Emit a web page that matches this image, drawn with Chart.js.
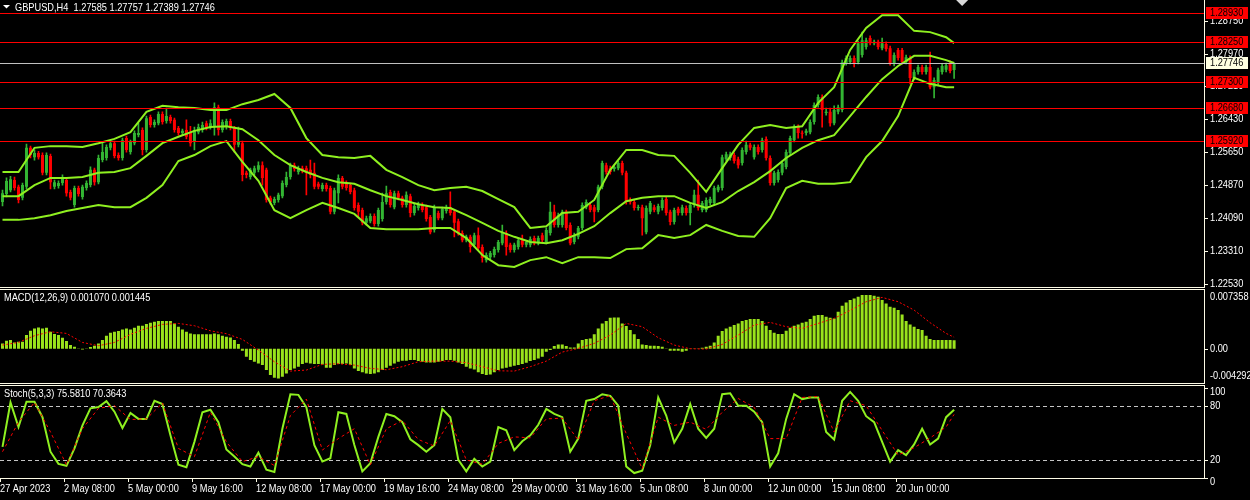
<!DOCTYPE html>
<html lang="en">

<head>
  <meta charset="UTF-8">
  <title>GBPUSD,H4</title>
  <script src="https://cdn.jsdelivr.net/npm/chart.js"></script>
  <style>
    html, body { margin: 0; padding: 0; background: #000; }
    body { width: 1250px; height: 500px; position: relative; overflow: hidden; }
    canvas { position: absolute; left: 0; }
    #mainChart { top: 0; }
    #macdChart { top: 289px; }
    #stochChart { top: 385px; }
  </style>
</head>

<body>
  <canvas id="mainChart" width="1250" height="288"></canvas>
  <canvas id="macdChart" width="1250" height="95"></canvas>
  <canvas id="stochChart" width="1250" height="115"></canvas>

  <script>
    // H4 candles, oldest first
    const opens = [
      1.2447,1.2466,1.2475,1.2499,1.2483,1.2457,1.2483,1.2575,1.2553,1.2563,
      1.2558,1.2516,1.2556,1.2483,1.2485,1.2492,1.2499,1.2471,1.2440,1.2480,
      1.2459,1.2480,1.2487,1.2523,1.2494,1.2546,1.2551,1.2575,1.2586,1.2558,
      1.2551,1.2598,1.2565,1.2586,1.2605,1.2617,1.2570,1.2648,1.2629,1.2633,
      1.2655,1.2638,1.2648,1.2641,1.2622,1.2610,1.2617,1.2612,1.2589,1.2612,
      1.2617,1.2633,1.2624,1.2624,1.2671,1.2617,1.2624,1.2638,1.2622,1.2582,
      1.2586,1.2516,1.2506,1.2516,1.2523,1.2534,1.2523,1.2457,1.2445,1.2452,
      1.2461,1.2487,1.2506,1.2534,1.2518,1.2527,1.2527,1.2523,1.2516,1.2490,
      1.2478,1.2487,1.2480,1.2424,1.2468,1.2504,1.2492,1.2487,1.2475,1.2440,
      1.2428,1.2398,1.2402,1.2414,1.2395,1.2407,1.2447,1.2471,1.2435,1.2468,
      1.2457,1.2440,1.2461,1.2421,1.2433,1.2440,1.2435,1.2412,1.2381,1.2421,
      1.2409,1.2426,1.2435,1.2424,1.2402,1.2374,1.2357,1.2365,1.2346,1.2369,
      1.2341,1.2310,1.2317,1.2322,1.2334,1.2350,1.2374,1.2346,1.2334,1.2341,
      1.2357,1.2346,1.2346,1.2362,1.2350,1.2369,1.2353,1.2374,1.2424,1.2393,
      1.2393,1.2424,1.2393,1.2353,1.2365,1.2386,1.2435,1.2440,1.2435,1.2428,
      1.2483,1.2534,1.2527,1.2525,1.2527,1.2539,1.2516,1.2452,1.2447,1.2433,
      1.2435,1.2376,1.2424,1.2435,1.2424,1.2433,1.2454,1.2424,1.2400,1.2431,
      1.2421,1.2433,1.2421,1.2440,1.2464,1.2428,1.2428,1.2445,1.2445,1.2475,
      1.2480,1.2548,1.2551,1.2558,1.2548,1.2539,1.2565,1.2582,1.2553,1.2577,
      1.2570,1.2596,1.2551,1.2492,1.2499,1.2516,1.2530,1.2563,1.2593,1.2624,
      1.2610,1.2610,1.2612,1.2636,1.2676,1.2695,1.2657,1.2660,1.2633,1.2660,
      1.2664,1.2775,1.2777,1.2787,1.2777,1.2794,1.2813,1.2834,1.2822,1.2825,
      1.2810,1.2820,1.2810,1.2773,1.2806,1.2806,1.2777,1.2787,1.2740,1.2754,
      1.2766,1.2754,1.2766,1.2718,1.2728,1.2754,1.2759,1.2775,1.27585
    ];
    const highs = [
      1.2475,1.2504,1.2508,1.2506,1.2487,1.2492,1.2584,1.2579,1.2570,1.2567,
      1.2563,1.2563,1.2560,1.2499,1.2497,1.2511,1.2504,1.2475,1.2485,1.2485,
      1.2487,1.2497,1.2530,1.2527,1.2558,1.2586,1.2582,1.2593,1.2591,1.2563,
      1.2598,1.2603,1.2593,1.2615,1.2633,1.2622,1.2650,1.2652,1.2641,1.2660,
      1.2660,1.2669,1.2652,1.2645,1.2626,1.2619,1.2641,1.2626,1.2624,1.2631,
      1.2636,1.2638,1.2641,1.2681,1.2676,1.2641,1.2643,1.2643,1.2626,1.2624,
      1.2591,1.2520,1.2527,1.2532,1.2542,1.2542,1.2527,1.2461,1.2459,1.2468,
      1.2497,1.2518,1.2539,1.2539,1.2532,1.2532,1.2532,1.2546,1.2539,1.2494,
      1.2492,1.2492,1.2485,1.2480,1.2511,1.2508,1.2497,1.2492,1.2480,1.2445,
      1.2433,1.2414,1.2419,1.2419,1.2433,1.2468,1.2485,1.2475,1.2473,1.2473,
      1.2461,1.2471,1.2466,1.2442,1.2447,1.2445,1.2440,1.2416,1.2440,1.2426,
      1.2435,1.2440,1.2471,1.2428,1.2407,1.2379,1.2369,1.2369,1.2374,1.2386,
      1.2346,1.2327,1.2331,1.2341,1.2357,1.2393,1.2379,1.2350,1.2350,1.2362,
      1.2369,1.2357,1.2365,1.2367,1.2367,1.2374,1.2386,1.2447,1.2440,1.2421,
      1.2428,1.2428,1.2398,1.2374,1.2390,1.2445,1.2452,1.2445,1.2440,1.2487,
      1.2544,1.2539,1.2532,1.2534,1.2544,1.2544,1.2520,1.2457,1.2452,1.2440,
      1.2440,1.2438,1.2449,1.2440,1.2442,1.2457,1.2459,1.2428,1.2433,1.2435,
      1.2440,1.2438,1.2445,1.2475,1.2499,1.2449,1.2457,1.2459,1.2485,1.2487,
      1.2558,1.2565,1.2565,1.2563,1.2553,1.2575,1.2591,1.2586,1.2582,1.2582,
      1.2598,1.2601,1.2556,1.2520,1.2523,1.2544,1.2570,1.2603,1.2629,1.2629,
      1.2615,1.2619,1.2641,1.2681,1.2700,1.2700,1.2669,1.2669,1.2674,1.2676,
      1.2782,1.2792,1.2792,1.2792,1.2827,1.2848,1.2834,1.2839,1.2829,1.2829,
      1.2834,1.2825,1.2815,1.2799,1.2810,1.2810,1.2794,1.2792,1.2759,1.2770,
      1.2770,1.2770,1.2801,1.2740,1.2763,1.2773,1.2775,1.2780,1.27757
    ];
    const lows = [
      1.2438,1.2459,1.2471,1.2475,1.2445,1.2452,1.2478,1.2551,1.2546,1.2548,
      1.2511,1.2511,1.2478,1.2478,1.2480,1.2487,1.2461,1.2452,1.2435,1.2461,
      1.2454,1.2475,1.2483,1.2487,1.2490,1.2542,1.2546,1.2570,1.2551,1.2546,
      1.2546,1.2565,1.2560,1.2582,1.2601,1.2558,1.2565,1.2624,1.2624,1.2629,
      1.2631,1.2633,1.2633,1.2612,1.2605,1.2605,1.2596,1.2579,1.2570,1.2608,
      1.2612,1.2617,1.2619,1.2605,1.2605,1.2612,1.2619,1.2617,1.2565,1.2577,
      1.2497,1.2504,1.2501,1.2511,1.2518,1.2487,1.2447,1.2442,1.2440,1.2447,
      1.2457,1.2483,1.2501,1.2520,1.2513,1.2516,1.2464,1.2504,1.2478,1.2478,
      1.2473,1.2473,1.2419,1.2419,1.2445,1.2478,1.2475,1.2466,1.2428,1.2412,
      1.2393,1.2393,1.2398,1.2390,1.2390,1.2402,1.2442,1.2435,1.2431,1.2452,
      1.2435,1.2435,1.2412,1.2416,1.2428,1.2424,1.2402,1.2372,1.2376,1.2405,
      1.2405,1.2421,1.2416,1.2365,1.2369,1.2353,1.2353,1.2329,1.2341,1.2334,
      1.2305,1.2305,1.2313,1.2317,1.2329,1.2346,1.2322,1.2329,1.2329,1.2336,
      1.2341,1.2341,1.2341,1.2346,1.2346,1.2353,1.2348,1.2369,1.2388,1.2388,
      1.2388,1.2381,1.2346,1.2348,1.2360,1.2381,1.2431,1.2424,1.2400,1.2424,
      1.2478,1.2513,1.2513,1.2520,1.2523,1.2511,1.2442,1.2442,1.2428,1.2428,
      1.2369,1.2372,1.2419,1.2424,1.2419,1.2428,1.2416,1.2393,1.2395,1.2416,
      1.2416,1.2416,1.2393,1.2435,1.2428,1.2424,1.2424,1.2440,1.2440,1.2471,
      1.2475,1.2544,1.2546,1.2539,1.2527,1.2534,1.2560,1.2570,1.2548,1.2560,
      1.2565,1.2546,1.2487,1.2487,1.2494,1.2511,1.2525,1.2558,1.2589,1.2598,
      1.2598,1.2605,1.2608,1.2631,1.2671,1.2624,1.2652,1.2626,1.2629,1.2655,
      1.2660,1.2770,1.2773,1.2766,1.2773,1.2789,1.2808,1.2818,1.2818,1.2808,
      1.2806,1.2803,1.2770,1.2768,1.2782,1.2773,1.2773,1.2726,1.2735,1.2749,
      1.2749,1.2749,1.2714,1.2693,1.2723,1.2749,1.2754,1.2752,1.27389
    ];
    const closes = [
      1.2468,1.2497,1.2501,1.2480,1.2452,1.2487,1.2575,1.2558,1.2563,1.2553,
      1.2516,1.2558,1.2494,1.2494,1.2492,1.2506,1.2468,1.2457,1.2480,1.2466,
      1.2483,1.2492,1.2523,1.2494,1.2551,1.2565,1.2577,1.2586,1.2556,1.2551,
      1.2593,1.2570,1.2589,1.2610,1.2610,1.2570,1.2645,1.2629,1.2636,1.2655,
      1.2636,1.2650,1.2638,1.2617,1.2610,1.2615,1.2601,1.2586,1.2617,1.2624,
      1.2629,1.2622,1.2633,1.2671,1.2617,1.2636,1.2638,1.2622,1.2582,1.2589,
      1.2511,1.2511,1.2523,1.2527,1.2534,1.2504,1.2452,1.2447,1.2454,1.2464,
      1.2492,1.2506,1.2534,1.2525,1.2527,1.2520,1.2518,1.2511,1.2483,1.2483,
      1.2487,1.2478,1.2424,1.2475,1.2504,1.2483,1.2480,1.2471,1.2433,1.2424,
      1.2398,1.2409,1.2414,1.2395,1.2428,1.2447,1.2468,1.2440,1.2468,1.2457,
      1.2440,1.2464,1.2421,1.2438,1.2442,1.2428,1.2407,1.2376,1.2435,1.2409,
      1.2431,1.2435,1.2421,1.2398,1.2374,1.2357,1.2365,1.2341,1.2369,1.2338,
      1.2315,1.2322,1.2327,1.2336,1.2353,1.2374,1.2341,1.2334,1.2346,1.2357,
      1.2346,1.2353,1.2360,1.2350,1.2362,1.2357,1.2381,1.2424,1.2393,1.2416,
      1.2424,1.2386,1.2350,1.2369,1.2386,1.2440,1.2447,1.2428,1.2424,1.2483,
      1.2539,1.2518,1.2518,1.2530,1.2539,1.2516,1.2447,1.2447,1.2433,1.2435,
      1.2409,1.2433,1.2445,1.2428,1.2438,1.2452,1.2421,1.2400,1.2428,1.2421,
      1.2435,1.2421,1.2440,1.2464,1.2433,1.2445,1.2452,1.2454,1.2480,1.2483,
      1.2553,1.2560,1.2560,1.2544,1.2534,1.2570,1.2582,1.2575,1.2577,1.2565,
      1.2593,1.2551,1.2492,1.2516,1.2518,1.2539,1.2565,1.2598,1.2624,1.2610,
      1.2608,1.2615,1.2636,1.2676,1.2695,1.2664,1.2660,1.2633,1.2664,1.2671,
      1.2777,1.2787,1.2787,1.2775,1.2822,1.2829,1.2829,1.2822,1.2825,1.2813,
      1.2822,1.2808,1.2775,1.2794,1.2787,1.2777,1.2789,1.2740,1.2754,1.2766,
      1.2754,1.2766,1.2718,1.2735,1.2759,1.2768,1.2770,1.2756,1.27746
    ];

    // Bollinger bands, read every 4th bar (the last point sits on the last bar)
    const bandStep = 4;
    const bandUpper = [
      1.2518,1.2518,1.2575,1.2579,1.2579,1.2577,1.2586,1.2596,1.2612,1.2660,
      1.2674,1.2671,1.2669,1.2664,1.2664,1.2678,1.2688,1.2702,1.2669,1.2598,
      1.2558,1.2553,1.2551,1.2556,1.2523,1.2506,1.2487,1.2475,1.2480,1.2483,
      1.2473,1.2454,1.2435,1.2386,1.2390,1.2421,1.2424,1.2452,1.2523,1.2570,
      1.2570,1.2558,1.2556,1.2516,1.2471,1.2527,1.2582,1.2622,1.2629,1.2622,
      1.2626,1.2681,1.2718,1.2806,1.2858,1.2888,1.2888,1.2851,1.2848,1.2836,1.2822
    ];
    const bandMiddle = [
      1.2461,1.2461,1.2487,1.2504,1.2504,1.2506,1.2516,1.2518,1.2527,1.2556,
      1.2586,1.2601,1.2615,1.2624,1.2626,1.2619,1.2593,1.2558,1.2534,1.2518,
      1.2504,1.2494,1.2490,1.2475,1.2461,1.2452,1.2442,1.2435,1.2433,1.2416,
      1.2398,1.2379,1.2365,1.2353,1.2350,1.2357,1.2372,1.2390,1.2421,1.2449,
      1.2457,1.2461,1.2461,1.2445,1.2433,1.2447,1.2473,1.2494,1.2520,1.2551,
      1.2575,1.2593,1.2605,1.2650,1.2695,1.2737,1.2768,1.2792,1.2792,1.2782,1.2775
    ];
    const bandLower = [
      1.2405,1.2405,1.2409,1.2416,1.2426,1.2433,1.2440,1.2435,1.2435,1.2457,
      1.2487,1.2544,1.2558,1.2579,1.2591,1.2542,1.2497,1.2428,1.2409,1.2428,
      1.2445,1.2433,1.2419,1.2386,1.2383,1.2383,1.2383,1.2386,1.2386,1.2362,
      1.2322,1.2298,1.2294,1.2310,1.2317,1.2303,1.2317,1.2317,1.2315,1.2336,
      1.2338,1.2369,1.2362,1.2369,1.2393,1.2379,1.2367,1.2365,1.2409,1.2480,
      1.2497,1.2490,1.2490,1.2494,1.2553,1.2591,1.2650,1.2740,1.2726,1.2718,1.2718
    ];

    // MACD(12,26,9): main per bar, signal every 4th bar
    const macdMain = [
      0.00067,0.00100,0.00109,0.00079,0.00088,0.00088,0.00171,0.00225,0.00255,0.00267,
      0.00255,0.00263,0.00213,0.00184,0.00171,0.00138,0.00096,0.00046,0.00025,0.00004,
      -0.00008,-0.00004,0.00021,0.00038,0.00067,0.00109,0.00163,0.00200,0.00213,0.00221,
      0.00242,0.00255,0.00242,0.00263,0.00288,0.00288,0.00309,0.00326,0.00338,0.00347,
      0.00347,0.00347,0.00347,0.00317,0.00276,0.00242,0.00213,0.00192,0.00180,0.00180,
      0.00180,0.00180,0.00180,0.00192,0.00180,0.00163,0.00150,0.00142,0.00109,0.00058,
      -0.00025,-0.00100,-0.00142,-0.00163,-0.00184,-0.00205,-0.00267,-0.00330,-0.00363,-0.00372,
      -0.00351,-0.00309,-0.00267,-0.00246,-0.00225,-0.00192,-0.00175,-0.00184,-0.00192,-0.00192,
      -0.00196,-0.00238,-0.00238,-0.00205,-0.00192,-0.00192,-0.00184,-0.00205,-0.00246,-0.00280,
      -0.00296,-0.00309,-0.00317,-0.00309,-0.00296,-0.00267,-0.00238,-0.00213,-0.00184,-0.00163,
      -0.00150,-0.00150,-0.00142,-0.00142,-0.00155,-0.00163,-0.00171,-0.00171,-0.00171,-0.00163,
      -0.00155,-0.00142,-0.00142,-0.00150,-0.00171,-0.00192,-0.00225,-0.00246,-0.00259,-0.00296,
      -0.00317,-0.00330,-0.00322,-0.00296,-0.00267,-0.00246,-0.00238,-0.00225,-0.00213,-0.00205,
      -0.00192,-0.00175,-0.00155,-0.00142,-0.00121,-0.00100,-0.00038,-0.00017,0.00033,0.00054,
      0.00054,0.00033,0.00017,0.00017,0.00067,0.00109,0.00121,0.00129,0.00180,0.00255,
      0.00317,0.00347,0.00388,0.00392,0.00392,0.00317,0.00284,0.00234,0.00180,0.00121,
      0.00054,0.00046,0.00038,0.00038,0.00033,0.00025,-0.00004,-0.00025,-0.00025,-0.00025,
      -0.00038,-0.00025,0.00004,0.00004,0.00004,0.00013,0.00025,0.00038,0.00079,0.00163,
      0.00221,0.00255,0.00276,0.00296,0.00317,0.00347,0.00359,0.00372,0.00372,0.00372,
      0.00347,0.00288,0.00234,0.00200,0.00184,0.00184,0.00225,0.00263,0.00288,0.00305,
      0.00326,0.00338,0.00372,0.00413,0.00422,0.00422,0.00401,0.00388,0.00380,0.00463,
      0.00539,0.00580,0.00610,0.00630,0.00651,0.00672,0.00672,0.00672,0.00664,0.00651,
      0.00610,0.00568,0.00526,0.00514,0.00484,0.00430,0.00347,0.00305,0.00276,0.00246,
      0.00234,0.00163,0.00121,0.00109,0.00109,0.00109,0.00109,0.00109,0.00107
    ];
    const macdSignalStep = 4;
    const macdSignal = [
      0.00046,0.00079,0.00163,0.00213,0.00192,0.00079,0.00038,0.00079,0.00180,0.00255,
      0.00305,0.00317,0.00288,0.00225,0.00188,0.00117,-0.00017,-0.00163,-0.00280,-0.00267,
      -0.00196,-0.00188,-0.00205,-0.00246,-0.00263,-0.00225,-0.00163,-0.00155,-0.00155,-0.00175,
      -0.00225,-0.00276,-0.00280,-0.00225,-0.00155,-0.00042,0.00004,0.00067,0.00171,0.00317,
      0.00276,0.00138,0.00046,0.00000,-0.00004,0.00054,0.00171,0.00296,0.00330,0.00276,
      0.00255,0.00317,0.00380,0.00480,0.00589,0.00643,0.00589,0.00484,0.00326,0.00192,0.001445
    ];

    // Stoch(5,3,3): %K every 2nd bar, %D every 4th bar
    const stochMainStep = 2;
    const stochMain = [
      34.5,83.6,56.4,84.4,84.4,67.3,29.1,15.6,13.5,32.7,
      58.2,77.1,78.5,85.1,73.4,55.3,72.0,65.4,65.4,85.5,
      81.8,47.3,14.6,12.0,40.0,72.7,75.6,61.8,31.6,23.7,
      15.3,12.7,28.0,9.1,6.6,54.5,92.7,92.0,78.2,36.4,
      18.2,21.8,72.7,70.9,36.4,7.3,16.4,45.5,70.9,68.4,
      61.8,42.9,36.4,29.1,36.4,76.4,67.3,20.0,7.3,21.1,
      12.7,18.2,56.4,52.7,30.9,40.7,47.3,58.9,76.4,70.9,
      67.3,29.1,43.6,85.5,87.3,92.7,90.9,80.0,12.7,5.5,
      8.0,36.4,89.1,69.1,39.3,54.5,81.8,54.5,44.4,54.5,
      92.7,93.8,80.0,80.0,73.4,61.8,12.7,27.3,65.4,92.7,
      87.3,89.1,89.1,50.9,42.6,85.5,95.3,85.5,68.4,61.8,
      40.0,18.2,30.9,25.4,37.1,54.5,37.1,43.6,67.3,75.5810
    ];
    const stochSignalStep = 4;
    const stochSignal = [
      29.1,61.8,83.6,50.9,14.6,54.5,77.1,80.0,64.7,65.4,
      82.9,32.7,23.6,72.7,40.0,18.2,23.6,13.8,69.1,87.3,
      30.9,43.6,54.5,14.6,54.5,63.6,42.6,35.3,63.6,20.0,
      15.3,38.2,45.5,44.4,65.4,66.2,41.8,85.5,91.3,49.1,
      10.2,67.3,58.2,61.8,53.8,72.7,88.0,78.2,43.6,43.6,
      89.1,90.2,50.9,85.5,80.0,52.7,25.4,33.5,44.4,56.4,70.3643
    ];

    // axes and levels
    const priceTicks = [1.28750, 1.27970, 1.27210, 1.26430, 1.25650, 1.24870, 1.24090, 1.23310, 1.22530];
    const levels = [1.28930, 1.28250, 1.27300, 1.26680, 1.25920];
    const macdTicks = [0.007358, 0, -0.004292];
    const stochTicks = [100, 80, 20, 0];
    const stochLevels = [80, 20];
    const dateEvery = 16;
    const dateLabels = ['27 Apr 2023', '2 May 08:00', '5 May 00:00', '9 May 16:00', '12 May 08:00',
      '17 May 00:00', '19 May 16:00', '24 May 08:00', '29 May 00:00', '31 May 16:00',
      '5 Jun 08:00', '8 Jun 00:00', '12 Jun 00:00', '15 Jun 08:00', '20 Jun 00:00'];

    const N = closes.length;
    const SLOTS = 301; // bars plus the empty shift area on the right
    const slots = Array.from({ length: SLOTS }, (_, i) => i);

    const BULL = '#33b533', BEAR = '#ff0000', LINE = '#8ff020', HIST = '#9ae21c';
    const AXIS = '#fdfbe6', TEXT = '#ffffff';

    // terminal-style text: a slightly condensed sans
    const FONT = '10.5px "Liberation Sans"';
    const SQUEEZE = 0.88;
    function text(ctx, s, x, y) {
      ctx.save();
      ctx.translate(x, y);
      ctx.scale(SQUEEZE, 1);
      ctx.fillText(s, 0, 0);
      ctx.restore();
    }

    function sparse(values, step) {
      const out = new Array(N).fill(null);
      values.forEach((v, k) => { out[Math.min(k * step, N - 1)] = v; });
      return out;
    }
    const crisp = v => Math.round(v) + 0.5;
    function hline(ctx, x1, x2, y, color, dash) {
      ctx.save();
      ctx.strokeStyle = color;
      ctx.lineWidth = 1;
      ctx.setLineDash(dash || []);
      ctx.beginPath();
      ctx.moveTo(x1, crisp(y));
      ctx.lineTo(x2, crisp(y));
      ctx.stroke();
      ctx.restore();
    }
    function vline(ctx, x, y1, y2, color) {
      ctx.save();
      ctx.strokeStyle = color;
      ctx.lineWidth = 1;
      ctx.beginPath();
      ctx.moveTo(crisp(x), y1);
      ctx.lineTo(crisp(x), y2);
      ctx.stroke();
      ctx.restore();
    }
    function tag(ctx, right, y, s, bg, fg) {
      const top = Math.round(y) - 6;
      ctx.fillStyle = bg;
      ctx.fillRect(right + 2, top, 42, 12);
      ctx.fillStyle = fg;
      text(ctx, s, right + 6, top + 6.5);
    }
    const candleColor = c => closes[c.dataIndex] >= opens[c.dataIndex] ? BULL : BEAR;

    const xAxis = { type: 'category', display: false, offset: true };
    const base = {
      responsive: false,
      animation: false,
      events: [],
      plugins: { legend: { display: false }, tooltip: { enabled: false } }
    };

    // ---- price pane ----
    const mainDecor = {
      id: 'mainDecor',
      afterDraw(chart) {
        const { ctx, chartArea: a, scales: { x, y } } = chart;
        ctx.save();
        ctx.font = FONT;
        ctx.textBaseline = 'middle';
        levels.forEach(v => hline(ctx, 0, a.right, y.getPixelForValue(v), BEAR));
        hline(ctx, 0, a.right, y.getPixelForValue(closes[N - 1]), '#c0c0c0');
        vline(ctx, a.right, 0, chart.height, AXIS);
        hline(ctx, 0, a.right, a.bottom, AXIS);
        priceTicks.forEach(v => {
          const py = y.getPixelForValue(v);
          hline(ctx, a.right, a.right + 4, py, AXIS);
          ctx.fillStyle = TEXT;
          text(ctx, v.toFixed(5), a.right + 6, Math.round(py) + 0.5);
        });
        levels.forEach(v => tag(ctx, a.right, y.getPixelForValue(v), v.toFixed(5), BEAR, '#000'));
        tag(ctx, a.right, y.getPixelForValue(closes[N - 1]), closes[N - 1].toFixed(5), '#ffffe1', '#000');

        // symbol header
        ctx.fillStyle = TEXT;
        ctx.beginPath();
        ctx.moveTo(3, 5); ctx.lineTo(10, 5); ctx.lineTo(6.5, 8.5);
        ctx.fill();
        const last = [opens, highs, lows, closes].map(s => s[N - 1].toFixed(5)).join(' ');
        text(ctx, 'GBPUSD,H4  ' + last, 15, 8);

        // chart shift marker
        const sx = x.getPixelForValue(N + 1);
        ctx.fillStyle = '#d8d8d8';
        ctx.beginPath();
        ctx.moveTo(sx - 6, 0); ctx.lineTo(sx + 6, 0); ctx.lineTo(sx, 6);
        ctx.fill();
        ctx.restore();
      }
    };

    new Chart(document.getElementById('mainChart'), {
      type: 'bar',
      data: {
        labels: slots,
        datasets: [
          { type: 'line', data: sparse(bandUpper, bandStep), borderColor: LINE, borderWidth: 2, pointRadius: 0, spanGaps: true, order: 0 },
          { type: 'line', data: sparse(bandMiddle, bandStep), borderColor: LINE, borderWidth: 2, pointRadius: 0, spanGaps: true, order: 0 },
          { type: 'line', data: sparse(bandLower, bandStep), borderColor: LINE, borderWidth: 2, pointRadius: 0, spanGaps: true, order: 0 },
          {
            data: closes.map((c, i) => [opens[i], c]),
            backgroundColor: candleColor, grouped: false, minBarLength: 1,
            categoryPercentage: 1, barPercentage: 0.75, order: 1
          },
          {
            data: lows.map((l, i) => [l, highs[i]]),
            backgroundColor: candleColor, grouped: false, barThickness: 1, order: 2
          }
        ]
      },
      options: {
        ...base,
        layout: { padding: { left: 0.5, right: 46, top: 0, bottom: 1 } },
        scales: { x: xAxis, y: { display: false, min: 1.22466, max: 1.29238 } }
      },
      plugins: [mainDecor]
    });

    // ---- MACD pane ----
    const macdDecor = {
      id: 'macdDecor',
      afterDraw(chart) {
        const { ctx, chartArea: a, scales: { y } } = chart;
        ctx.save();
        ctx.font = FONT;
        ctx.textBaseline = 'middle';
        vline(ctx, a.right, 0, chart.height, AXIS);
        hline(ctx, 0, a.right, 0, AXIS);
        hline(ctx, 0, a.right, a.bottom, AXIS);
        macdTicks.forEach(v => {
          const py = y.getPixelForValue(v);
          if (v === 0) hline(ctx, a.right, a.right + 4, py, AXIS);
          const ly = Math.min(Math.max(py, a.top + 7), a.bottom - 7);
          ctx.fillStyle = TEXT;
          text(ctx, v === 0 ? '0.00' : v.toFixed(6), a.right + 6, Math.round(ly) + 0.5);
        });
        ctx.fillStyle = TEXT;
        text(ctx, 'MACD(12,26,9) ' + macdMain[N - 1].toFixed(6) + ' ' +
          macdSignal[macdSignal.length - 1].toFixed(6), 4, a.top + 8);
        ctx.restore();
      }
    };

    new Chart(document.getElementById('macdChart'), {
      type: 'bar',
      data: {
        labels: slots,
        datasets: [
          {
            type: 'line', data: sparse(macdSignal, macdSignalStep), borderColor: BEAR, borderWidth: 1,
            borderDash: [2, 2], pointRadius: 0, spanGaps: true, order: 0
          },
          { data: macdMain, backgroundColor: HIST, categoryPercentage: 1, barPercentage: 0.75, order: 1 }
        ]
      },
      options: {
        ...base,
        layout: { padding: { left: 0.5, right: 46, top: 1, bottom: 1 } },
        scales: { x: xAxis, y: { display: false, min: macdTicks[2], max: macdTicks[0] } }
      },
      plugins: [macdDecor]
    });

    // ---- Stochastic pane ----
    const stochDecor = {
      id: 'stochDecor',
      beforeDatasetsDraw(chart) {
        const { ctx, chartArea: a, scales: { y } } = chart;
        stochLevels.forEach(v => hline(ctx, 0, a.right, y.getPixelForValue(v), '#c4c4c4', [4, 3]));
      },
      afterDraw(chart) {
        const { ctx, chartArea: a, scales: { x, y } } = chart;
        ctx.save();
        ctx.font = FONT;
        ctx.textBaseline = 'middle';
        vline(ctx, a.right, 0, a.bottom, AXIS);
        hline(ctx, 0, a.right, 0, AXIS);
        hline(ctx, 0, a.right, a.bottom, AXIS);
        stochTicks.forEach(v => {
          const py = y.getPixelForValue(v);
          hline(ctx, a.right, a.right + 4, py, AXIS);
          const ly = v === 0 ? py + 4 : Math.max(py, a.top + 6);
          ctx.fillStyle = TEXT;
          text(ctx, String(v), a.right + 6, Math.round(ly) + 0.5);
        });
        dateLabels.forEach((label, k) => {
          const px = Math.round(x.getPixelForValue(k * dateEvery) - 2);
          vline(ctx, px, a.bottom, a.bottom + 4, AXIS);
          ctx.fillStyle = TEXT;
          text(ctx, label, px, a.bottom + 11);
        });
        ctx.fillStyle = TEXT;
        text(ctx, 'Stoch(5,3,3) ' + stochMain[stochMain.length - 1].toFixed(4) + ' ' +
          stochSignal[stochSignal.length - 1].toFixed(4), 4, a.top + 8);
        ctx.restore();
      }
    };

    new Chart(document.getElementById('stochChart'), {
      type: 'line',
      data: {
        labels: slots,
        datasets: [
          {
            data: sparse(stochSignal, stochSignalStep), borderColor: BEAR, borderWidth: 1,
            borderDash: [3, 3], pointRadius: 0, spanGaps: true, order: 0
          },
          { data: sparse(stochMain, stochMainStep), borderColor: LINE, borderWidth: 2, pointRadius: 0, spanGaps: true, order: 1 }
        ]
      },
      options: {
        ...base,
        layout: { padding: { left: 0.5, right: 46, top: 1, bottom: 22 } },
        scales: { x: xAxis, y: { display: false, min: 0, max: 101.8 } }
      },
      plugins: [stochDecor]
    });
  </script>
</body>

</html>
